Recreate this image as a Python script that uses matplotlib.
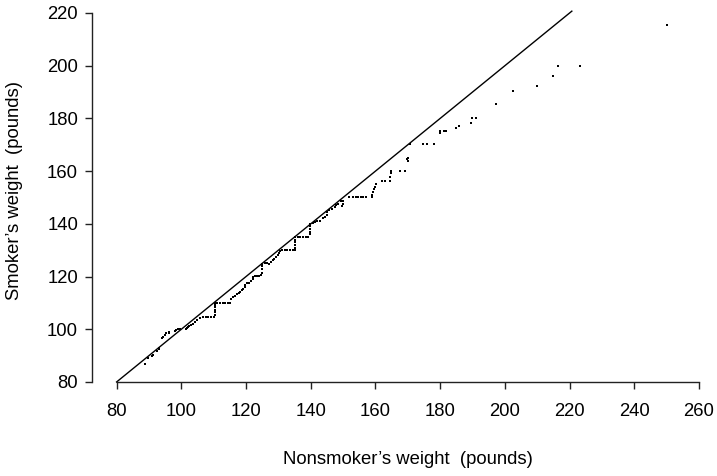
import numpy as np
import matplotlib
matplotlib.use("Agg")
import matplotlib.pyplot as plt

plt.rcParams['font.family'] = ['Liberation Sans', 'DejaVu Sans']

# quantile pairs (nonsmoker, smoker), pounds
nonsmoker = [
    88.9, 89.8, 90.9, 91.4, 92.4, 93.0, 93.2, 94.0, 94.5, 95.1, 95.3, 96.1, 96.3,
    98.0, 98.4, 99.0, 99.6, 101.5, 101.9, 102.1, 102.5, 103.1, 103.5, 104.2, 105.0,
    105.8, 106.8, 107.6, 108.4, 109.2, 110.0,
    110.3, 110.3, 110.3, 110.3, 110.3, 110.3,
    111.0, 112.0, 112.8, 113.6, 114.4, 115.1,
    115.3, 115.9, 116.5, 117.1, 117.7, 118.2, 118.8, 119.2, 119.6, 119.8, 120.2,
    120.8, 121.5, 122.1, 122.3, 122.9, 123.5, 124.1, 124.7,
    125.0, 125.0, 125.0, 125.0, 125.8, 126.4, 127.0,
    127.6, 128.2, 128.8, 129.3, 129.8, 130.3, 130.6, 131.2, 132.0, 132.8, 133.6, 134.4, 135.0,
    135.2, 135.2, 135.2, 135.2, 135.2,
    136.0, 136.8, 137.6, 138.4, 139.2,
    139.8, 139.8, 139.8, 139.8, 139.8,
    140.6, 141.3, 142.0, 142.8, 143.7, 144.4, 145.0, 145.1, 145.8, 146.5, 147.5,
    147.8, 148.5, 149.3, 149.9, 149.9, 149.7,
    151.7, 153.2, 154.0, 154.7, 155.5, 156.3, 157.1,
    158.9, 159.0, 159.4, 159.7, 160.0, 160.2, 162.0, 162.9, 164.6, 164.6, 164.9, 164.9,
    167.6, 169.1, 169.9, 170.0, 170.0, 170.7,
    174.8, 176.0, 178.2, 180.1, 180.1, 181.3, 181.9, 184.9, 185.8, 189.6, 189.8, 191.1,
    197.4, 202.6, 209.8, 215.0, 216.5, 223.3, 250.0,
]
smoker = [
    86.7, 89.0, 89.9, 90.1, 91.8, 92.5, 92.9, 96.8, 97.0, 97.8, 98.5, 99.0, 98.7,
    99.3, 99.7, 100.2, 100.2, 100.0, 100.5, 101.0, 101.2, 101.5, 102.0, 102.8, 103.5,
    104.4, 104.8, 104.8, 104.8, 104.8, 104.8,
    105.6, 106.5, 107.4, 108.3, 109.2, 109.9,
    109.9, 109.9, 109.9, 109.9, 109.9, 109.9,
    111.4, 112.1, 112.6, 113.4, 113.7, 114.1, 114.9, 115.2, 116.0, 116.9, 117.4,
    117.7, 118.2, 118.9, 119.9, 120.2, 120.2, 120.2, 120.5,
    121.2, 122.7, 124.0, 124.8, 125.3, 125.1, 124.8,
    125.6, 126.2, 126.8, 127.5, 128.3, 129.0, 129.8, 130.1, 130.1, 130.1, 130.1, 130.1, 130.1,
    131.0, 132.0, 133.0, 134.0, 135.0,
    135.1, 135.1, 135.1, 135.1, 135.1,
    136.0, 137.0, 138.0, 139.0, 140.0,
    140.4, 140.6, 141.0, 141.0, 142.1, 142.7, 143.4, 144.6, 145.3, 145.5, 146.3,
    147.1, 147.5, 148.8, 148.8, 147.5, 146.8,
    150.1, 150.1, 150.1, 150.1, 150.1, 150.1, 150.1,
    150.1, 151.1, 152.2, 153.1, 153.9, 155.1, 156.1, 156.1, 156.1, 157.7, 159.2, 160.2,
    160.2, 160.2, 164.7, 163.9, 164.8, 170.2,
    170.2, 170.2, 170.2, 175.1, 174.3, 175.1, 175.1, 176.4, 177.0, 178.1, 180.2, 180.2,
    185.3, 190.3, 192.2, 196.0, 200.0, 200.0, 215.4,
]

x_ticks = [80, 100, 120, 140, 160, 180, 200, 220, 240, 260]
y_ticks = [80, 100, 120, 140, 160, 180, 200, 220]

fig = plt.figure(figsize=(7.17, 4.76), dpi=100)
ax = fig.add_axes([0.1283, 0.1975, 0.8466, 0.7752])

# reference line y = x
ax.plot([80, 220.7], [80, 220.7], color='black', lw=1.0, clip_on=False)
ax.plot(nonsmoker, smoker, 's', color='black', ms=1.8, mew=0, clip_on=False)

ax.set_xlim(72.4, 260)
ax.set_ylim(80, 220)
ax.set_xticks(x_ticks)
ax.set_yticks(y_ticks)

for s in ['top', 'right']:
    ax.spines[s].set_visible(False)
ax.spines['bottom'].set_bounds(80, 260)
for s in ['left', 'bottom']:
    ax.spines[s].set_linewidth(1.0)
    ax.spines[s].set_color('#222222')

ax.tick_params(axis='both', direction='out', length=5, width=1.0,
               color='#222222', labelsize=13.3)
ax.tick_params(axis='x', pad=10)
ax.tick_params(axis='y', pad=5)

ax.set_xlabel("Nonsmoker\u2019s weight  (pounds)", fontsize=13.3)
ax.set_ylabel("Smoker\u2019s weight  (pounds)", fontsize=13.3)
# x label sits under the middle of the 80-260 spine
ax.xaxis.set_label_coords(0.52, -0.186)
ax.yaxis.set_label_coords(-0.113, 0.52)

fig.savefig("out.png", dpi=100)
